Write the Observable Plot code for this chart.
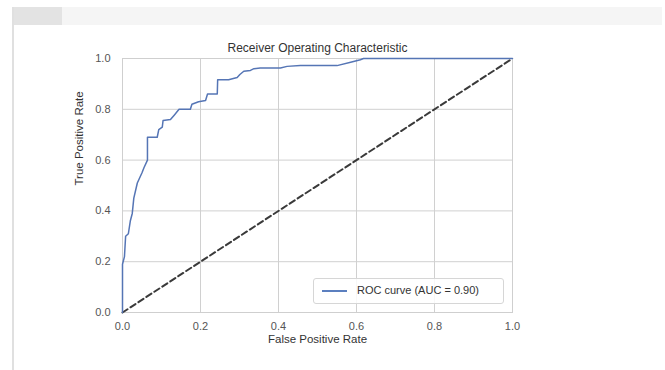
<!DOCTYPE html>
<html>
<head>
<meta charset="utf-8">
<script src="https://cdn.jsdelivr.net/npm/d3@7"></script>
<script src="https://cdn.jsdelivr.net/npm/@observablehq/plot@0.6"></script>
<style>
  html, body { margin: 0; padding: 0; background: #fff; width: 665px; height: 370px; overflow: hidden; }
  #page { position: relative; width: 665px; height: 370px; font-family: "Liberation Sans", Arial, sans-serif; }
  .strip { position: absolute; left: 12px; top: 7px; width: 650px; height: 18px; background: #f5f5f5; }
  .tab { position: absolute; left: 12px; top: 7px; width: 50px; height: 18px; background: #e3e3e3; }
  .vline { position: absolute; left: 12px; top: 7px; width: 2px; height: 363px; background: #e0e0e0; }
  #chart { position: absolute; left: 0; top: 0; }
  .legend { position: absolute; left: 313px; top: 278px; width: 191px; height: 26px; box-sizing: border-box;
            border: 1px solid #d6d6d6; border-radius: 3px; background: rgba(255,255,255,0.85); }
  .legend .swatch { position: absolute; left: 8px; top: 11px; width: 25px; height: 2px; background: #5b7fbf; }
  .legend .lab { position: absolute; left: 43px; top: 5px; font-size: 11px; color: #333; white-space: nowrap; }
</style>
</head>
<body>
<div id="page">
  <div class="strip"></div>
  <div class="tab"></div>
  <div class="vline"></div>
  <div id="chart"></div>
  <div class="legend"><div class="swatch"></div><div class="lab">ROC curve (AUC = 0.90)</div></div>
</div>
<script>
const fpr = [0, 0, 0.005, 0.008, 0.015, 0.02, 0.025, 0.029, 0.038, 0.05, 0.055, 0.064, 0.064, 0.089, 0.093, 0.102, 0.104, 0.123, 0.132, 0.145, 0.174, 0.178, 0.195, 0.213, 0.218, 0.243, 0.244, 0.272, 0.294, 0.301, 0.311, 0.328, 0.337, 0.353, 0.405, 0.422, 0.456, 0.55, 0.585, 0.61, 0.618, 1.0];
const tpr = [0, 0.19, 0.22, 0.30, 0.31, 0.36, 0.39, 0.45, 0.51, 0.55, 0.57, 0.60, 0.69, 0.69, 0.72, 0.73, 0.756, 0.76, 0.776, 0.80, 0.80, 0.82, 0.83, 0.835, 0.86, 0.86, 0.916, 0.916, 0.925, 0.937, 0.95, 0.953, 0.96, 0.963, 0.963, 0.969, 0.972, 0.972, 0.985, 0.995, 1.0, 1.0];
const diagX = [0, 1];
const diagY = [0, 1];
const ticks = [0, 0.2, 0.4, 0.6, 0.8, 1.0];
const titleText = "Receiver Operating Characteristic";
const xLabel = "False Positive Rate";
const yLabel = "True Positive Rate";

const roc = fpr.map((f, i) => ({fpr: f, tpr: tpr[i]}));
const diag = diagX.map((x, i) => ({x, y: diagY[i]}));

const chart = Plot.plot({
  width: 665,
  height: 370,
  marginLeft: 122,
  marginRight: 153,
  marginTop: 58,
  marginBottom: 58,
  style: {background: "transparent", fontFamily: "'Liberation Sans', Arial, sans-serif", fontSize: "11px", color: "#555"},
  x: {domain: [0, 1], ticks: ticks, tickFormat: d => d.toFixed(1), label: null},
  y: {domain: [0, 1], ticks: ticks, tickFormat: d => d.toFixed(1), label: null},
  marks: [
    Plot.gridX(ticks, {stroke: "#d0d0d0", strokeOpacity: 1, strokeWidth: 1}),
    Plot.gridY(ticks, {stroke: "#d0d0d0", strokeOpacity: 1, strokeWidth: 1}),
    Plot.frame({stroke: "#cfcfcf", strokeWidth: 1}),
    Plot.axisX(ticks, {tickSize: 0, tickPadding: 10, tickFormat: d => d.toFixed(1), fill: "#555", fontSize: 11}),
    Plot.axisY(ticks, {tickSize: 0, tickPadding: 12, tickFormat: d => d.toFixed(1), fill: "#555", fontSize: 11}),
    Plot.line(diag, {x: "x", y: "y", stroke: "#3a3a3a", strokeWidth: 2, strokeDasharray: "6,3.5"}),
    Plot.line(roc, {x: "fpr", y: "tpr", stroke: "#5575b5", strokeWidth: 1.5}),
    Plot.text([titleText], {frameAnchor: "top", dy: -15, fontSize: 12, fill: "#333"}),
    Plot.text([xLabel], {frameAnchor: "bottom", dy: 30, fontSize: 11.5, fill: "#333"}),
    Plot.text([yLabel], {frameAnchor: "left", dx: -43, rotate: -90, fontSize: 11.5, fill: "#333"})
  ]
});
document.getElementById("chart").appendChild(chart);
</script>
</body>
</html>
